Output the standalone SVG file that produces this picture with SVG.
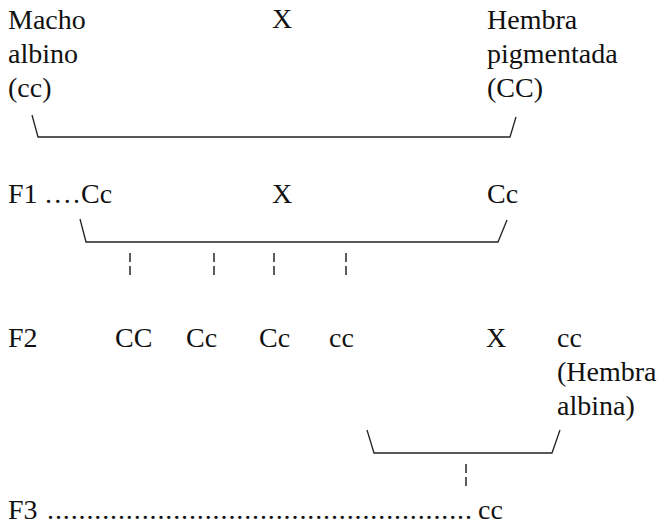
<svg xmlns="http://www.w3.org/2000/svg" width="665" height="526" viewBox="0 0 665 526">
  <style>
    text { font-family: "Liberation Serif", "Times New Roman", serif; font-size: 28px; fill: #111; }
    .br { fill: none; stroke: #222; stroke-width: 1.3; }
    .bar { stroke: #333; stroke-width: 1.6; stroke-dasharray: 9 4; }
  </style>
  <rect width="665" height="526" fill="#fff"/>

  <!-- Parental generation -->
  <g id="p-male">
    <text x="8" y="29">Macho</text>
    <text x="8" y="63">albino</text>
    <text x="8" y="97">(cc)</text>
  </g>
  <g id="p-cross"><text x="272" y="28">X</text></g>
  <g id="p-female">
    <text x="487" y="29">Hembra</text>
    <text x="487" y="63">pigmentada</text>
    <text x="487" y="97">(CC)</text>
  </g>

  <!-- F1 -->
  <g id="f1-label">
    <text x="8" y="203">F1</text>
    <text x="45" y="203" textLength="35" lengthAdjust="spacing">....</text>
  </g>
  <g id="f1-male"><text x="81" y="203">Cc</text></g>
  <g id="f1-cross"><text x="272" y="203">X</text></g>
  <g id="f1-female"><text x="487" y="203">Cc</text></g>

  <!-- F2 -->
  <g id="f2-label"><text x="8" y="347">F2</text></g>
  <g id="f2-cc-dom"><text x="115" y="347">CC</text></g>
  <g id="f2-het-1"><text x="186" y="347">Cc</text></g>
  <g id="f2-het-2"><text x="259" y="347">Cc</text></g>
  <g id="f2-cc-rec"><text x="329" y="347">cc</text></g>
  <g id="f2-cross"><text x="486" y="347">X</text></g>
  <g id="f2-female">
    <text x="557" y="347">cc</text>
    <text x="557" y="381">(Hembra</text>
    <text x="557" y="415">albina)</text>
  </g>

  <!-- F3 -->
  <g id="f3-label">
    <text x="8" y="519">F3</text>
    <text x="47" y="519" textLength="425" lengthAdjust="spacing">......................................................</text>
  </g>
  <g id="f3-result"><text x="478" y="519">cc</text></g>

  <g id="connectors">
    <polyline class="br" points="32,115 38,137 510,137 516,117"/>
    <polyline class="br" points="80,219 86,242 498,242 507,220"/>
    <polyline class="br" points="367,430 374,453 552,453 560,430"/>
    <line class="bar" x1="130" y1="253" x2="130" y2="275"/>
    <line class="bar" x1="214" y1="253" x2="214" y2="275"/>
    <line class="bar" x1="274" y1="253" x2="274" y2="275"/>
    <line class="bar" x1="346" y1="253" x2="346" y2="275"/>
    <line class="bar" x1="466" y1="464" x2="466" y2="486"/>
  </g>
</svg>
